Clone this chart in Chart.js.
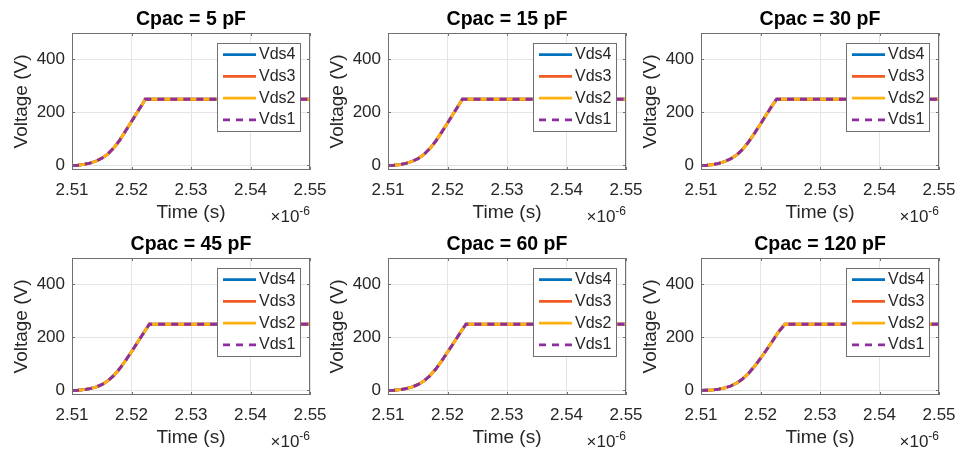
<!DOCTYPE html>
<html>
<head>
<meta charset="utf-8">
<script src="https://cdn.jsdelivr.net/npm/chart.js@4.4.0/dist/chart.umd.min.js"></script>
<style>
  body { margin: 0; background: #fff; }
  #wrap { position: relative; width: 959px; height: 452px; overflow: hidden; background: #fff; }
  #wrap canvas { position: absolute; }
</style>
</head>
<body>
<div id="wrap"></div>
<script>
// tick labels (time in units of 1e-6 s)
const timeTicks = [2.51, 2.52, 2.53, 2.54, 2.55];
const voltTicks = [0, 200, 400];
const seriesNames = ["Vds4", "Vds3", "Vds2", "Vds1"];
const cpacValues = [5, 15, 30, 45, 60, 120];

// drain-source voltage rise, all four switches overlap
const t5 = [2.51, 2.511, 2.512, 2.513, 2.514, 2.515, 2.516, 2.517, 2.518, 2.519, 2.52, 2.521, 2.522, 2.5223, 2.55];
const v5 = [0, 1, 4, 9, 16, 27, 43, 66, 95, 130, 166, 202, 238, 250, 250];
const t15 = [2.51, 2.511, 2.512, 2.513, 2.514, 2.515, 2.516, 2.517, 2.518, 2.519, 2.52, 2.521, 2.522, 2.5225, 2.55];
const v15 = [0, 1, 3, 8, 15, 25, 41, 63, 91, 125, 160, 196, 232, 250, 250];
const t30 = [2.51, 2.511, 2.512, 2.513, 2.514, 2.515, 2.516, 2.517, 2.518, 2.519, 2.52, 2.521, 2.522, 2.5227, 2.55];
const v30 = [0, 1, 3, 8, 15, 25, 40, 61, 89, 122, 157, 192, 227, 250, 250];
const t45 = [2.51, 2.511, 2.512, 2.513, 2.514, 2.515, 2.516, 2.517, 2.518, 2.519, 2.52, 2.521, 2.522, 2.523, 2.55];
const v45 = [0, 1, 3, 7, 13, 22, 36, 56, 82, 113, 146, 181, 216, 250, 250];
const t60 = [2.51, 2.511, 2.512, 2.513, 2.514, 2.515, 2.516, 2.517, 2.518, 2.519, 2.52, 2.521, 2.522, 2.5231, 2.55];
const v60 = [0, 1, 3, 7, 13, 22, 35, 55, 80, 111, 144, 178, 213, 250, 250];
const t120 = [2.51, 2.511, 2.512, 2.513, 2.514, 2.515, 2.516, 2.517, 2.518, 2.519, 2.52, 2.521, 2.522, 2.523, 2.5241, 2.55];
const v120 = [0, 1, 2, 5, 10, 17, 28, 44, 65, 91, 121, 153, 186, 220, 250, 250];

const times = [t5, t15, t30, t45, t60, t120];
const volts = [v5, v15, v30, v45, v60, v120];

const FONT = "'Liberation Sans', Arial, Helvetica, sans-serif";
const INK = "#262626";
const EDGE = "#707070";
const seriesColors = ["#0072BD", "#F25A23", "#FFB10F", "#8C2E9E"];
const colLeft = [0, 316, 629];
const rowTop = [0, 225];

// axes box, inward tick marks and the x exponent label
const axesBox = {
  id: "axesBox",
  afterDraw(chart) {
    const { ctx, chartArea: a, scales } = chart;
    const x = scales.x, y = scales.y;
    ctx.save();
    ctx.strokeStyle = EDGE;
    ctx.lineWidth = 1;
    ctx.setLineDash([]);
    ctx.strokeRect(a.left + 0.5, a.top + 0.5, a.width - 1, a.height - 1);
    ctx.beginPath();
    x.ticks.forEach((t) => {
      const px = Math.round(x.getPixelForValue(t.value)) + 0.5;
      ctx.moveTo(px, a.bottom); ctx.lineTo(px, a.bottom - 3);
      ctx.moveTo(px, a.top); ctx.lineTo(px, a.top + 3);
    });
    y.ticks.forEach((t) => {
      const py = Math.round(y.getPixelForValue(t.value)) + 0.5;
      ctx.moveTo(a.left, py); ctx.lineTo(a.left + 3, py);
      ctx.moveTo(a.right, py); ctx.lineTo(a.right - 3, py);
    });
    ctx.stroke();

    ctx.fillStyle = INK;
    ctx.textBaseline = "alphabetic";
    ctx.textAlign = "left";
    ctx.font = "12px " + FONT;
    const sup = "-6";
    const w2 = ctx.measureText(sup).width;
    ctx.fillText(sup, a.right - w2, a.bottom + 45);
    ctx.font = "17px " + FONT;
    const base = "\u00d710";
    const w1 = ctx.measureText(base).width;
    ctx.fillText(base, a.right - w2 - w1, a.bottom + 52);
    ctx.restore();
  },
};

// boxed legend in the upper right of the plot area
const boxLegend = {
  id: "boxLegend",
  afterDatasetsDraw(chart) {
    const { ctx, chartArea: a } = chart;
    const w = 84, h = 89;
    const left = a.right - 9 - w, top = a.top + 10;
    ctx.save();
    ctx.fillStyle = "#fff";
    ctx.fillRect(left, top, w, h);
    ctx.strokeStyle = EDGE;
    ctx.lineWidth = 1;
    ctx.strokeRect(left + 0.5, top + 0.5, w - 1, h - 1);
    ctx.font = "16px " + FONT;
    ctx.textBaseline = "middle";
    ctx.fillStyle = INK;
    chart.data.datasets.forEach((ds, i) => {
      const yy = top + 11.7 + i * 21.7;
      ctx.strokeStyle = ds.borderColor;
      ctx.lineWidth = ds.borderWidth;
      ctx.setLineDash(ds.borderDash);
      ctx.beginPath();
      ctx.moveTo(left + 6, yy);
      ctx.lineTo(left + 39, yy);
      ctx.stroke();
      ctx.fillText(ds.label, left + 42, yy);
    });
    ctx.restore();
  },
};

const wrap = document.getElementById("wrap");

cpacValues.forEach((cpac, i) => {
  const canvas = document.createElement("canvas");
  canvas.width = 345;
  canvas.height = 226;
  canvas.style.left = colLeft[i % 3] + "px";
  canvas.style.top = rowTop[Math.floor(i / 3)] + "px";
  wrap.appendChild(canvas);

  const pts = times[i].map((t, k) => ({ x: t, y: volts[i][k] }));

  new Chart(canvas, {
    type: "line",
    data: {
      datasets: seriesNames.map((name, s) => ({
        label: name,
        data: pts,
        borderColor: seriesColors[s],
        borderWidth: 2.8,
        borderDash: s === 3 ? [7, 6] : [],
        order: seriesNames.length - 1 - s, // Vds1 ends up on top
        pointRadius: 0,
        fill: false,
      })),
    },
    options: {
      responsive: false,
      animation: false,
      devicePixelRatio: 1,
      layout: { padding: { left: 0, right: 35, top: 0, bottom: 0 } },
      plugins: {
        legend: { display: false },
        tooltip: { enabled: false },
        title: {
          display: true,
          fullSize: false,
          text: "Cpac = " + cpac + " pF",
          color: "#000",
          font: { family: FONT, size: 19.5, weight: "bold" },
          padding: { top: 8, bottom: 1.6 },
        },
      },
      scales: {
        x: {
          type: "linear",
          min: 2.51,
          max: 2.55,
          afterBuildTicks: (s) => { s.ticks = timeTicks.map((v) => ({ value: v })); },
          afterFit: (s) => { s.height = 56; },
          ticks: {
            color: INK,
            font: { family: FONT, size: 17 },
            padding: 10,
            maxRotation: 0,
            autoSkip: false,
            callback: (v) => v.toFixed(2),
          },
          grid: { color: "#e4e4e4", drawTicks: false },
          border: { display: false },
          title: {
            display: true,
            text: "Time (s)",
            color: INK,
            font: { family: FONT, size: 19 },
            padding: { top: 0, bottom: 1.5 },
          },
        },
        y: {
          min: -17,
          max: 500,
          afterBuildTicks: (s) => { s.ticks = voltTicks.map((v) => ({ value: v })); },
          afterFit: (s) => { s.width = 72; },
          ticks: {
            color: INK,
            font: { family: FONT, size: 17 },
            padding: 7,
          },
          grid: { color: "#e4e4e4", drawTicks: false },
          border: { display: false },
          title: {
            display: true,
            text: "Voltage (V)",
            color: INK,
            font: { family: FONT, size: 19 },
            padding: { top: 10.5, bottom: 0 },
          },
        },
      },
    },
    plugins: [boxLegend, axesBox],
  });
});
</script>
</body>
</html>
